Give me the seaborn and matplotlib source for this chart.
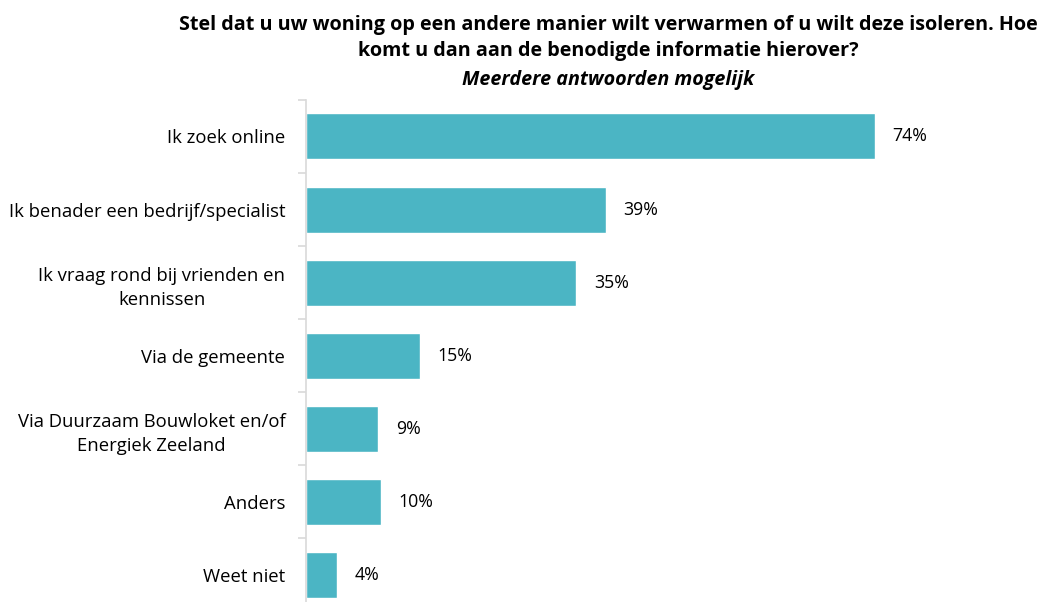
import matplotlib
matplotlib.use("Agg")
import matplotlib.pyplot as plt
import seaborn as sb

antwoorden = [
    "Ik zoek online",
    "Ik benader een bedrijf/specialist",
    "Ik vraag rond bij vrienden en\nkennissen",
    "Via de gemeente",
    "Via Duurzaam Bouwloket en/of\nEnergiek Zeeland",
    "Anders",
    "Weet niet",
]
percentages = [74, 39, 35.2, 14.8, 9.4, 9.7, 4.0]
labels = ["74%", "39%", "35%", "15%", "9%", "10%", "4%"]

kleur = "#4BB5C4"

sb.set_style("white")
plt.rcParams["font.family"] = ["Open Sans", "DejaVu Sans"]
plt.rcParams["text.color"] = "#000000"

fig = plt.figure(figsize=(10.47, 6.02), dpi=100)
ax = fig.add_axes([306 / 1047, -0.0158, 730 / 1047, 0.834 + 0.0158])

sb.barplot(x=percentages, y=antwoorden, color=kleur, width=0.63,
           saturation=1, ax=ax, orient="h")
ax.set_xlim(0, 95)
ax.set_ylim(len(antwoorden) - 0.5, -0.5)

for i, (v, lab) in enumerate(zip(percentages, labels)):
    ax.text(v + 2.3, i, lab, va="center", ha="left", fontsize=12.8,
            color="#000000")

for s in ["top", "right", "bottom"]:
    ax.spines[s].set_visible(False)
ax.spines["left"].set_color("#d9d9d9")
ax.spines["left"].set_linewidth(1.2)
ax.set_xticks([])
ax.set_yticks([i - 0.5 for i in range(len(antwoorden) + 1)], minor=True)
ax.tick_params(axis="y", which="minor", length=6, color="#d9d9d9",
               width=1.2, left=True)
ax.tick_params(axis="y", which="major", length=0, pad=15, labelsize=13.3,
               labelcolor="#000000")
for t in ax.get_yticklabels():
    t.set_multialignment("center")
    t.set_linespacing(1.45)
ax.set_xlabel("")
ax.set_ylabel("")

titel_x = 0.581
fig.text(titel_x, 1 - 25 / 602, "Stel dat u uw woning op een andere manier wilt verwarmen of u wilt deze isoleren. Hoe",
         ha="center", va="center", fontsize=14.2, fontweight="bold")
fig.text(titel_x, 1 - 51 / 602, "komt u dan aan de benodigde informatie hierover?",
         ha="center", va="center", fontsize=14.2, fontweight="bold")
fig.text(titel_x, 1 - 80 / 602, "Meerdere antwoorden mogelijk", ha="center",
         va="center", fontsize=14.2, fontweight="bold", style="italic")

fig.savefig("out.png", dpi=100)
